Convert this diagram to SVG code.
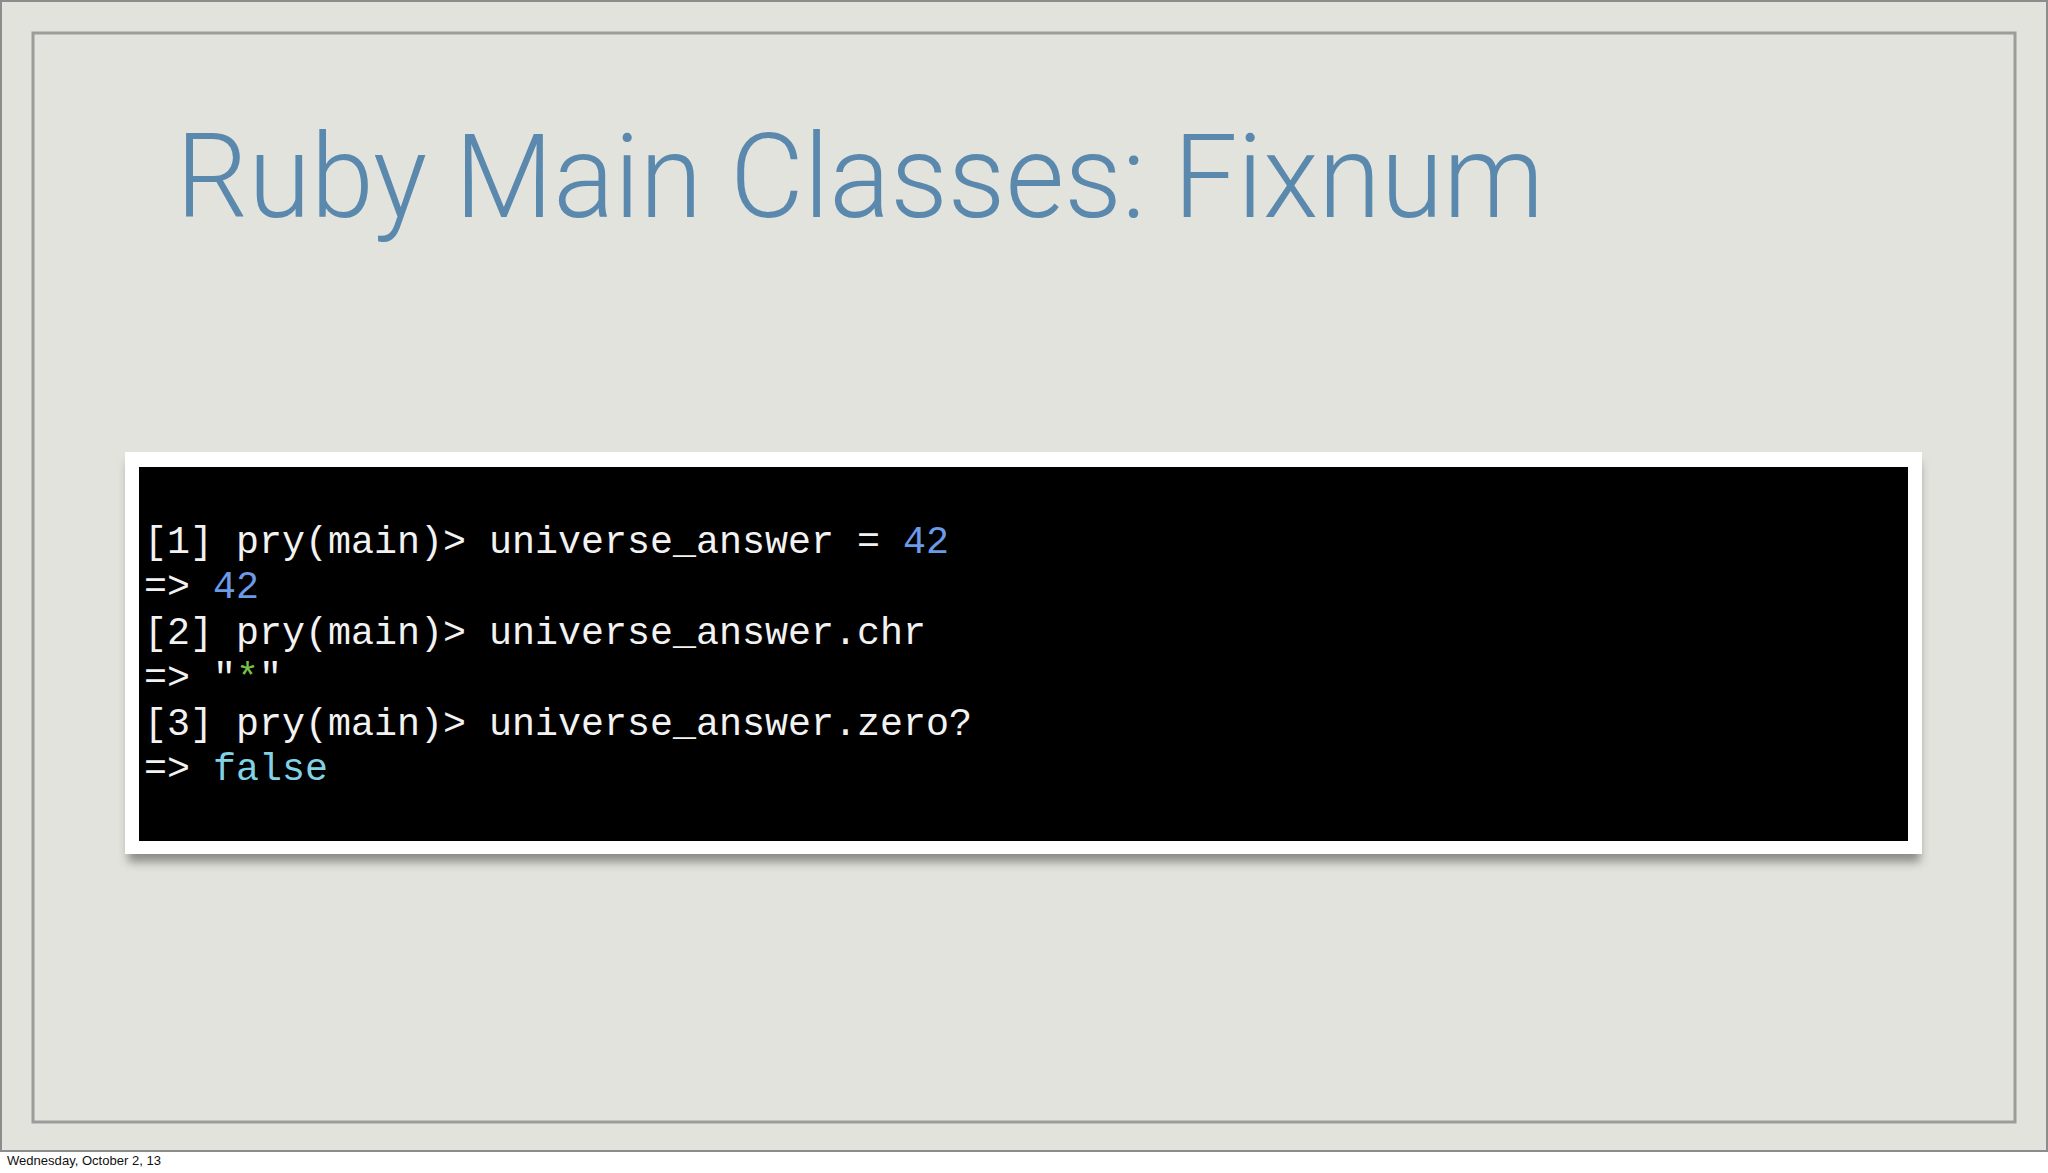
<svg xmlns="http://www.w3.org/2000/svg" width="2048" height="1173" viewBox="0 0 2048 1173">
  <defs>
    <style>
      .title { font-family: "Roboto", "Liberation Sans", sans-serif; font-weight: 300; font-size: 117px; fill: #5a89ad; }
      .code { font-family: "Liberation Mono", "DejaVu Sans Mono", monospace; font-size: 38.33px; fill: #f2f2f2; }
      .num { fill: #6b9be6; }
      .str { fill: #79c04a; }
      .bool { fill: #82d2e6; }
      .date { font-family: "Liberation Sans", Arial, sans-serif; font-size: 13px; fill: #111; }
    </style>
    <filter id="shadow" x="-5%" y="-10%" width="110%" height="130%">
      <feGaussianBlur stdDeviation="5"/>
    </filter>
  </defs>

  <!-- page -->
  <rect x="0" y="0" width="2048" height="1173" fill="#ffffff"/>
  <rect id="slide" x="1" y="1" width="2046" height="1150" fill="#e3e3de" stroke="#8c8c8c" stroke-width="2"/>
  <rect id="frame" x="33" y="33" width="1982" height="1089" fill="none" stroke="#9c9c9a" stroke-width="3"/>

  <g id="title">
    <text class="title" x="176" y="217" textLength="1368" lengthAdjust="spacingAndGlyphs">Ruby Main Classes: Fixnum</text>
  </g>

  <g id="terminal">
    <rect x="128" y="462" width="1792" height="400" fill="#6e6e6a" opacity="0.75" filter="url(#shadow)"/>
    <rect x="125" y="452" width="1797" height="402" fill="#ffffff"/>
    <rect x="139" y="467" width="1769" height="374" fill="#000000"/>
    <g xml:space="preserve">
      <text class="code" x="144" y="553">[1] pry(main)&gt; universe_answer = <tspan class="num">42</tspan></text>
      <text class="code" x="144" y="598">=&gt; <tspan class="num">42</tspan></text>
      <text class="code" x="144" y="644">[2] pry(main)&gt; universe_answer.chr</text>
      <text class="code" x="144" y="689">=&gt; "<tspan class="str">*</tspan>"</text>
      <text class="code" x="144" y="735">[3] pry(main)&gt; universe_answer.zero?</text>
      <text class="code" x="144" y="780">=&gt; <tspan class="bool">false</tspan></text>
    </g>
  </g>

  <g id="footer">
    <text class="date" x="7" y="1165" textLength="154" lengthAdjust="spacingAndGlyphs">Wednesday, October 2, 13</text>
  </g>
</svg>
